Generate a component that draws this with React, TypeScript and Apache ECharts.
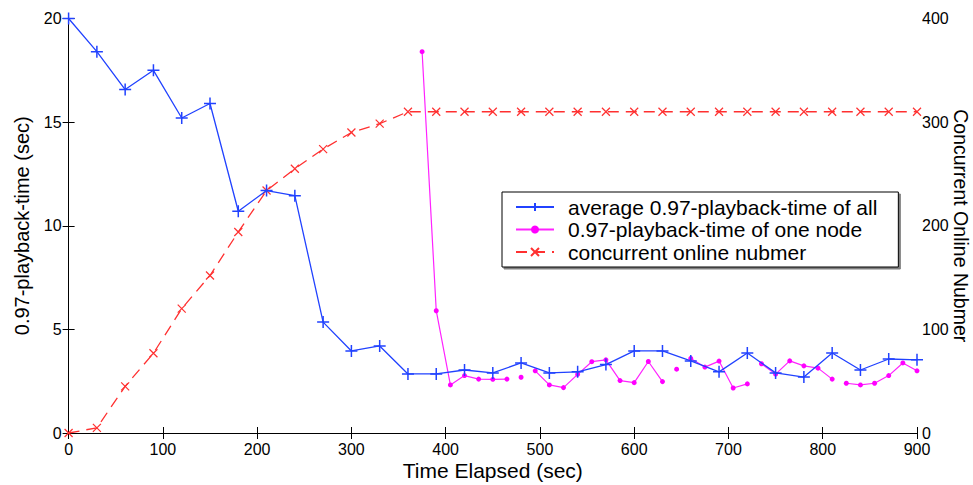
import React, { useEffect, useRef } from "react";
import * as echarts from "echarts";

// ---- data ----
const blueTimes = [0, 30, 60, 90, 120, 150, 180, 210, 240, 270, 300, 330, 360, 390, 420, 450, 480, 510, 540, 570, 600, 630, 660, 690, 720, 750, 780, 810, 840, 870, 900];
const avgPlayback = [20, 18.4, 16.57, 17.5, 15.2, 15.9, 10.7, 11.7, 11.45, 5.35, 3.96, 4.2, 2.85, 2.85, 3.04, 2.9, 3.38, 2.9, 2.95, 3.3, 3.96, 3.96, 3.48, 2.95, 3.86, 2.9, 2.7, 3.86, 3.04, 3.57, 3.53];
const onlineNumber = [0, 5, 45, 77, 120, 152, 194, 234, 255, 274, 290, 298.5, 310, 310, 310, 310, 310, 310, 310, 310, 310, 310, 310, 310, 310, 310, 310, 310, 310, 310, 310];
const nodeTimes = [375, 390, 405, 420, 435, 450, 465, 480, 495, 510, 525, 540, 555, 570, 585, 600, 615, 630, 645, 660, 675, 690, 705, 720, 735, 750, 765, 780, 795, 810, 825, 840, 855, 870, 885, 900];
const nodePlayback = [18.4, 5.9, 2.32, 2.77, 2.6, 2.59, 2.6, 2.69, 3.0, 2.32, 2.19, 2.83, 3.44, 3.53, 2.53, 2.43, 3.45, 2.48, 3.08, 3.6, 3.18, 3.47, 2.17, 2.37, 3.34, 2.84, 3.48, 3.24, 3.13, 2.6, 2.4, 2.32, 2.4, 2.77, 3.38, 3.0];
// times after which the single-node curve is not connected
const nodeBreaksAfter = [465, 480, 630, 645, 720, 810];
const xTicks = [0, 100, 200, 300, 400, 500, 600, 700, 800, 900];

const seriesNames = [
  "average 0.97-playback-time of all",
  "0.97-playback-time of one node",
  "concurrent online nubmer",
];

const FONT = "'Liberation Sans', Arial, Helvetica, sans-serif";

export default function App() {
  const ref = useRef<HTMLDivElement>(null);
  useEffect(() => {
    document.body.style.margin = "0";
    if (!ref.current) return;
    const chart = echarts.init(ref.current, null, { renderer: "svg" });

    const nodeData: any[] = [];
    nodeTimes.forEach((t, i) => {
      nodeData.push([t, nodePlayback[i]]);
      if (nodeBreaksAfter.includes(t)) nodeData.push([t + 7.5, "-"]);
    });

    const plus = "path://M5,0L5,10M0,5L10,5";
    const cross = "path://M0,0L10,10M0,10L10,0";
    const blue = "#2142ff";
    const magenta = "#ff22ff";
    const red = "#ff3030";

    const axisLine = { show: true, lineStyle: { color: "#000", width: 1 } };
    const axisTick = { show: true, inside: true, length: 6, lineStyle: { color: "#000" } };

    chart.setOption({
      animation: false,
      backgroundColor: "#fff",
      textStyle: { fontFamily: FONT },
      grid: { left: 68.6, right: 56, top: 18.5, bottom: 52, containLabel: false, outerBoundsMode: "none" },
      legend: {
        data: seriesNames,
        orient: "vertical",
        left: 502,
        top: 192,
        padding: [4, 21, 4, 13],
        itemGap: 0.5,
        itemWidth: 38,
        itemHeight: 10,
        borderColor: "#000",
        borderWidth: 1,
        backgroundColor: "#fff",
        shadowColor: "rgba(0,0,0,0.5)",
        shadowOffsetX: 2,
        shadowOffsetY: 2,
        shadowBlur: 1,
        textStyle: { fontSize: 21, color: "#000", fontFamily: FONT, lineHeight: 22, padding: [0, 0, 0, 9] },
      },
      xAxis: [
        {
          type: "value",
          min: 0,
          max: 900,
          interval: 100,
          position: "bottom",
          name: "Time Elapsed (sec)",
          nameLocation: "middle",
          nameGap: 27,
          nameMoveOverlap: false,
          nameTextStyle: { fontSize: 21, color: "#000", fontFamily: FONT },
          axisLine,
          axisTick,
          splitLine: { show: false },
          axisLabel: { fontSize: 16, color: "#000", margin: 8, fontFamily: FONT,
            formatter: (v: number) => (xTicks.includes(v) ? String(v) : "") },
        },
        {
          type: "value",
          min: 0,
          max: 900,
          interval: 100,
          position: "top",
          axisLine,
          axisTick,
          splitLine: { show: false },
          axisLabel: { show: false },
        },
      ],
      yAxis: [
        {
          type: "value",
          min: 0,
          max: 20,
          interval: 5,
          position: "left",
          name: "0.97-playback-time (sec)",
          nameLocation: "middle",
          nameGap: 37,
          nameMoveOverlap: false,
          nameTextStyle: { fontSize: 20, color: "#000", fontFamily: FONT },
          axisLine,
          axisTick,
          splitLine: { show: false },
          axisLabel: { fontSize: 16, color: "#000", margin: 7, fontFamily: FONT },
        },
        {
          type: "value",
          min: 0,
          max: 400,
          interval: 100,
          position: "right",
          name: "Concurrent Online Nubmer",
          nameLocation: "middle",
          nameGap: 34,
          nameRotate: -90,
          nameMoveOverlap: false,
          nameTextStyle: { fontSize: 19.5, color: "#000", fontFamily: FONT },
          axisLine,
          axisTick,
          splitLine: { show: false },
          axisLabel: { fontSize: 16, color: "#000", margin: 5, fontFamily: FONT, verticalAlign: "middle" },
        },
      ],
      series: [
        {
          name: seriesNames[0],
          type: "line",
          xAxisIndex: 0,
          yAxisIndex: 0,
          data: blueTimes.map((t, i) => [t, avgPlayback[i]]),
          symbol: plus,
          symbolSize: 12,
          showSymbol: true,
          lineStyle: { color: blue, width: 1.3 },
          itemStyle: { color: blue, borderColor: blue, borderWidth: 1.5 },
          z: 3,
        },
        {
          name: seriesNames[1],
          type: "line",
          xAxisIndex: 0,
          yAxisIndex: 0,
          data: nodeData,
          connectNulls: false,
          symbol: "circle",
          symbolSize: 5,
          showSymbol: true,
          lineStyle: { color: magenta, width: 1.2 },
          itemStyle: { color: "#ff00ff" },
          z: 2,
        },
        {
          name: seriesNames[2],
          type: "line",
          xAxisIndex: 0,
          yAxisIndex: 1,
          data: blueTimes.map((t, i) => [t, onlineNumber[i]]),
          symbol: cross,
          symbolSize: 8,
          showSymbol: true,
          lineStyle: { color: red, width: 1.3, type: [11, 7] },
          itemStyle: { color: red, borderColor: red, borderWidth: 1.2 },
          z: 1,
        },
      ],
    });
    return () => chart.dispose();
  }, []);
  return <div ref={ref} style={{ width: 973, height: 485 }} />;
}
